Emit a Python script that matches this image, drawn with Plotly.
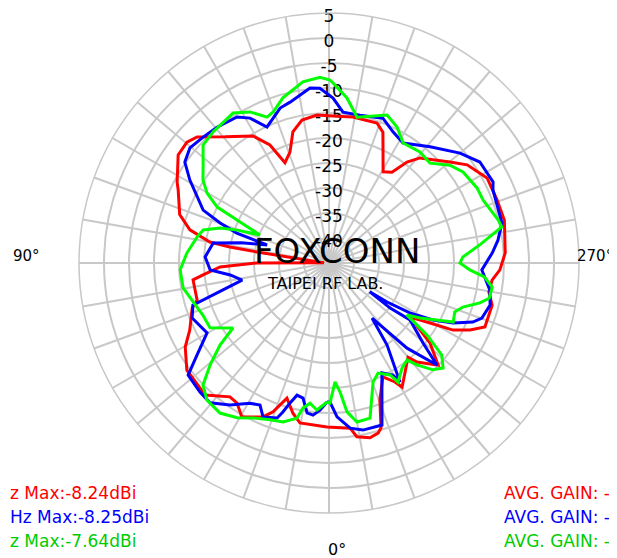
import plotly.graph_objects as go

# Antenna pattern, gain in dBi against angle (deg)
theta_red = [0.7, 10.3, 13.5, 17.3, 20.6, 23.2, 29.5, 33.3, 36.5, 43.2, 53, 59.7, 64.3, 71.8,
             74.3, 82.9, 84.6, 87.9, 90, 91.5, 98.7, 99.2, 100, 103.4, 108, 115.8, 118, 125.6,
             130.4, 133.7, 140.5, 149.1, 153.4, 156.3, 160.6, 164.6, 169.3, 175.4, 183.1, 189.3,
             198.9, 202.4, 210.7, 214.7, 217.7, 220.9, 230.1, 234.6, 241.7, 249.4, 256.3, 266.7,
             272.3, 276, 280.3, 284.5, 292.3, 295.4, 298.4, 300.7, 303.7, 308.4, 313.1, 318.4,
             320, 325.1, 329.5, 331, 334.7, 339.6, 342.5, 343.9, 346.8, 350.9, 352.7, 360.7]
r_red = [-12.2, -12.5, -14.1, -16.7, -13.2, -11.5, -9.6, -11.5, -11.7, -8.8, -9.4, -11.7, -14.1, -16.2,
         -17.6, -17.6, -19.7, -23.2, -30.6, -44, -30.4, -24.9, -20.8, -16.4, -13.6, -11.5, -10.6, -7.9,
         -7.7, -8.5, -12.3, -15.4, -18.6, -23.1, -21.5, -17.8, -15.9, -15.3, -15.6, -15.4,
         -15.4, -16.7, -23.8, -22.9, -19.5, -17.2, -13.5, -11.1, -9.1, -9.1, -8.9, -9.7,
         -10.8, -12.2, -12.5, -11.3, -11.3, -13.8, -16.8, -21.5, -25.5, -19.2, -15.1, -18.5,
         -20.4, -18.4, -16.2, -17.8, -19.8, -15.8, -10.4, -9.6, -9.1, -9.8, -11.7, -12.2]

theta_blue = [0.8, 3.5, 6, 8.3, 10.9, 13.6, 15.6, 17.2, 18.5, 23.2, 25.9, 29.4, 34.9, 40.4, 45,
              51.5, 55.1, 60.2, 68.1, 72.8, 78.9, 83.1, 86.6, 92.8, 99.8, 103, 106.2, 108, 110.2,
              112.8, 120.8, 125, 129.6, 135, 140.5, 147.8, 151.4, 155.5, 162.5, 166.4, 173.8, 177,
              181.4, 185.3, 191.8, 200.4, 206, 211.7, 221, 230, 236.2, 243.7, 246, 257, 262.3,
              266.5, 272.6, 279.5, 284.6, 289.8, 292.3, 295.8, 298.7, 301.7, 303.9, 305.3, 306.4,
              305.1, 310.4, 313.4, 317.5, 322, 324.7, 329.2, 330.3, 334.3, 341.9, 348.5, 352.7,
              357, 359.6, 360.8]
r_blue = [-17.2, -15.5, -14.4, -14.7, -17.5, -17.8, -15.9, -13.8, -12.3, -11.5, -13.4, -12.8, -10.4, -8.3, -8.5,
          -9.0, -12.8, -16.9, -15.5, -16.5, -27.3, -25.1, -21.2, -20.2, -21.5, -27, -32.1, -25.6, -21.8,
          -17.7, -12.6, -9.8, -8.9, -9.4, -9.8, -10.5, -12, -15.1, -12.5, -11.9, -9.8, -10,
          -12, -14.7, -14.8, -14.1, -15.8, -16.8, -14.2, -10.8, -8.7, -8.4, -9.1, -9.5, -10.9,
          -12.3, -14.4, -12.4, -11.7, -12.5, -13.9, -17.4, -21.3, -26, -31, -35, -29.8,
          -25.2, -20.3, -15.3, -21.9, -31, -24.9, -17.3, -19.2, -20.6, -10.9, -10.9, -11.7,
          -14.2, -17.2, -17.2]

theta_green = [0.8, 4.7, 7.7, 10.2, 11.7, 16.1, 20.6, 26.1, 30.7, 36, 41.7, 45.9, 49.4, 53, 55.9,
               61.4, 67.6, 80.3, 87.3, 94, 101.1, 104.7, 107.8, 109.7, 112.1, 115, 116.6, 119.8,
               123.4, 127.9, 133.1, 138.5, 147.4, 152.4, 157, 159.7, 164.4, 171.8, 177.2, 180.3,
               181.3, 186.2, 190.9, 201.4, 206.6, 211.7, 219.3, 225.3, 231, 235.8, 243.1, 247.8,
               255.7, 258.2, 263, 267.4, 270, 272.8, 275.1, 278.4, 282.4, 284.8, 288.2, 291.3,
               295.4, 301.1, 303.7, 306.3, 309.2, 312.6, 315.8, 319.2, 321.2, 325.2, 329.9, 331.4,
               336, 339.7, 345.2, 350, 353.1, 355.1, 357.1, 359.6, 360.8]
r_green = [-17.2, -15.5, -16.7, -15.5, -13.3, -11.9, -11.5, -10.5, -9.0, -7.9, -8.3, -9.9, -13.7, -17.7, -21.8,
           -17.9, -17.7, -15.4, -15.2, -16.5, -18.1, -19, -22.1, -25.5, -30.1, -24.7, -20, -16.9,
           -14.8, -13.1, -10.5, -10, -9.4, -10.9, -13.3, -12.8, -10.7, -8.4, -7.8, -8.4,
           -9, -11.8, -15.3, -13.2, -14.6, -16.8, -16.3, -16.6, -13.9, -12.6, -11.8, -11.7,
           -10.1, -9.7, -14.5, -18.2, -18.8, -16.8, -13.8, -12.0, -12.2, -13.8, -16.8, -18,
           -17.5, -23.7, -26.3, -20.7, -15.9, -14, -15.2, -18.1, -20.1, -19.4, -17.5, -19.5,
           -20.9, -19.6, -12.9, -12.7, -15, -19.1, -21.2, -17, -17.2]

radial_ticks = [5, 0, -5, -10, -15, -20, -25, -30, -35, -40]

max_labels = ['z Max:-8.24dBi', 'Hz Max:-8.25dBi', 'z Max:-7.64dBi']
avg_labels = ['AVG. GAIN: -', 'AVG. GAIN: -', 'AVG. GAIN: -']
colors = ['#ff0000', '#0000ff', '#00ff00']
text_colors = ['#ff0000', '#0000ff', '#00cc00']

FONT = 'DejaVu Sans'
GRID = '#c8c8c8'

# the page body adds an 8px margin, so the figure is shrunk by that much
PAD = 8
W, H = 617 - PAD, 558 - PAD


def px(x):
    return (x - PAD) / W


def py(y):
    return 1 - (y - PAD) / H


fig = go.Figure()

# radial tick labels sit just under their ring, on the top spoke
fig.add_trace(go.Scatterpolar(
    theta=[180] * len(radial_ticks),
    r=[v - 1 for v in radial_ticks],
    mode='text',
    text=[str(v) for v in radial_ticks],
    textposition='middle center',
    textfont=dict(family=FONT, size=17, color='black'),
    showlegend=False,
    hoverinfo='skip'
))

for th, rr, col in zip([theta_red, theta_blue, theta_green],
                       [r_red, r_blue, r_green], colors):
    fig.add_trace(go.Scatterpolar(
        theta=th, r=rr, mode='lines',
        line=dict(color=col, width=3),
        showlegend=False
    ))

annotations = [
    dict(text='FOXCONN', x=px(337), y=py(251), font=dict(size=34)),
    dict(text='TAIPEI RF LAB.', x=px(325), y=py(283), font=dict(size=16)),
    dict(text='0°', x=px(337), y=py(549), font=dict(size=16)),
    dict(text='90°', x=px(26), y=py(256), font=dict(size=15)),
    dict(text='270°', x=px(595), y=py(256), font=dict(size=15)),
]
for a in annotations:
    a.update(xref='paper', yref='paper', showarrow=False,
             xanchor='center', yanchor='middle')
    a['font'].update(family=FONT, color='black')

rows_y = [493, 517, 541]
for txt, avg, col, y in zip(max_labels, avg_labels, text_colors, rows_y):
    annotations.append(dict(text=txt, x=px(PAD), y=py(y), xref='paper', yref='paper',
                            xanchor='left', yanchor='middle', showarrow=False,
                            font=dict(family=FONT, size=17, color=col)))
    annotations.append(dict(text=avg, x=px(502), y=py(y), xref='paper', yref='paper',
                            xanchor='left', yanchor='middle', showarrow=False,
                            font=dict(family=FONT, size=17, color=col)))

fig.update_layout(
    width=W, height=H,
    margin=dict(l=0, r=0, t=0, b=0),
    paper_bgcolor='white',
    plot_bgcolor='white',
    showlegend=False,
    annotations=annotations,
    polar=dict(
        domain=dict(x=[px(79), px(579)], y=[py(513), py(13)]),
        bgcolor='white',
        radialaxis=dict(
            range=[-45, 5], tickvals=radial_ticks, showticklabels=False,
            ticks='', showline=False, gridcolor=GRID, gridwidth=1.5
        ),
        angularaxis=dict(
            rotation=270, direction='clockwise', dtick=10,
            showticklabels=False, ticks='',
            gridcolor=GRID, gridwidth=1.5,
            showline=True, linecolor=GRID, linewidth=1.5
        )
    )
)

fig.write_html("out.html")
